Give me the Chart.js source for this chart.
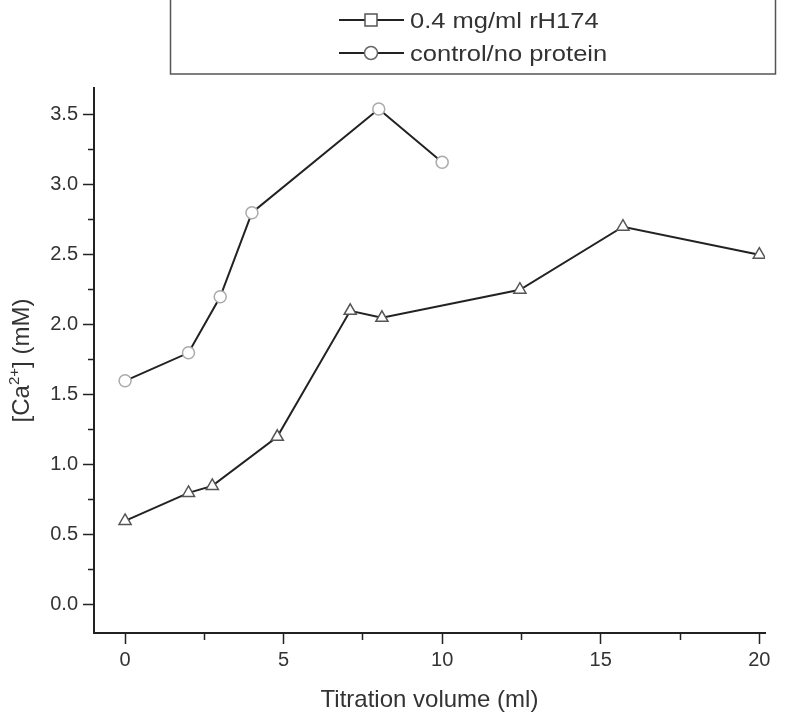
<!DOCTYPE html>
<html>
<head>
<meta charset="utf-8">
<script src="https://cdn.jsdelivr.net/npm/chart.js@4"></script>
<style>
  html, body { margin:0; padding:0; background:#fff; }
</style>
</head>
<body>
<canvas id="ch-calcium" width="800" height="720"></canvas>
<script>
// ====================== DATA ======================
const proteinX = [0, 2, 2.75, 4.8, 7.1, 8.1, 12.45, 15.7, 20];
const proteinY = [0.6, 0.8, 0.85, 1.2, 2.1, 2.05, 2.25, 2.7, 2.5];
const controlX = [0, 2, 3, 4, 8, 10];
const controlY = [1.6, 1.8, 2.2, 2.8, 3.54, 3.16];
const seriesNames = ['0.4 mg/ml rH174', 'control/no protein'];
const xTicks = [0, 2.5, 5, 7.5, 10, 12.5, 15, 17.5, 20];
const yTicks = [0, 0.25, 0.5, 0.75, 1, 1.25, 1.5, 1.75, 2, 2.25, 2.5, 2.75, 3, 3.25, 3.5];
const xTitle = 'Titration volume (ml)';

const INK = '#222';
const TXT = '#333';
const FONT = "'Liberation Sans', Arial, sans-serif";

const toPts = (xs, ys) => xs.map((x, i) => ({ x, y: ys[i] }));
const isMajorX = v => Math.abs(v % 5) < 1e-6;
const isMajorY = v => Math.abs(v * 2 - Math.round(v * 2)) < 1e-6;

// legend box + axis titles drawn straight on the canvas
const decorations = {
  id: 'decorations',
  afterDraw(chart) {
    const c = chart.ctx, area = chart.chartArea;
    c.save();
    // legend frame
    c.strokeStyle = '#555'; c.lineWidth = 1.5;
    c.strokeRect(170.5, -2, 605, 76);
    const rows = [{ y: 20, style: 'rect', color: '#555' }, { y: 53, style: 'circle', color: '#666' }];
    rows.forEach((r, i) => {
      c.strokeStyle = INK; c.lineWidth = 2;
      c.beginPath(); c.moveTo(339, r.y); c.lineTo(404, r.y); c.stroke();
      c.fillStyle = '#fff'; c.strokeStyle = r.color; c.lineWidth = 1.5;
      c.beginPath();
      if (r.style === 'rect') c.rect(365, r.y - 6, 12, 12);
      else c.arc(371, r.y, 6.5, 0, Math.PI * 2);
      c.fill(); c.stroke();
      c.save();
      c.translate(410, r.y + 8);
      c.scale(1.16, 1);
      c.fillStyle = TXT; c.font = '22px ' + FONT; c.textBaseline = 'alphabetic'; c.textAlign = 'left';
      c.fillText(seriesNames[i], 0, 0);
      c.restore();
    });

    // x title
    c.fillStyle = TXT; c.font = '24px ' + FONT; c.textAlign = 'center'; c.textBaseline = 'alphabetic';
    c.fillText(xTitle, (area.left + area.right) / 2, 707);

    // y title with superscript: [Ca2+] (mM)
    const parts = [['[Ca', 24, 0], ['2+', 15, -10], ['] (mM)', 24, 0]];
    let total = 0;
    parts.forEach(p => { c.font = p[1] + 'px ' + FONT; total += c.measureText(p[0]).width; });
    c.translate(29, (area.top + area.bottom) / 2);
    c.rotate(-Math.PI / 2);
    c.textAlign = 'left';
    let px = -total / 2;
    parts.forEach(p => {
      c.font = p[1] + 'px ' + FONT;
      c.fillText(p[0], px, p[2]);
      px += c.measureText(p[0]).width;
    });
    c.restore();
  }
};

new Chart(document.getElementById('ch-calcium'), {
  type: 'line',
  data: {
    datasets: [
      { label: seriesNames[0], data: toPts(proteinX, proteinY), borderColor: INK, borderWidth: 2,
        pointStyle: 'triangle', pointRadius: 7, pointBorderColor: '#555', pointBackgroundColor: '#fff', pointBorderWidth: 1.5 },
      { label: seriesNames[1], data: toPts(controlX, controlY), borderColor: INK, borderWidth: 2,
        pointStyle: 'circle', pointRadius: 6, pointBorderColor: '#aaa', pointBackgroundColor: '#fff', pointBorderWidth: 1.5 }
    ]
  },
  options: {
    responsive: false, animation: false,
    layout: { padding: { top: 88, right: 35, left: 0, bottom: 0 } },
    plugins: { legend: { display: false }, tooltip: { enabled: false } },
    elements: { line: { tension: 0 } },
    scales: {
      x: {
        type: 'linear', min: -0.98, max: 20.18,
        afterBuildTicks: s => { s.ticks = xTicks.map(v => ({ value: v })); },
        afterFit: s => { s.height = 87; },
        border: { color: INK, width: 2 },
        grid: { drawOnChartArea: false, drawTicks: true, tickLength: 11, color: INK, tickWidth: 1.5,
          tickBorderDash: ctx => (ctx.tick && !isMajorX(ctx.tick.value) ? [6, 60] : []) },
        ticks: { color: TXT, font: { family: FONT, size: 20 }, padding: 4, maxRotation: 0,
          callback: v => (isMajorX(v) ? String(v) : '') }
      },
      y: {
        min: -0.2, max: 3.69,
        afterBuildTicks: s => { s.ticks = yTicks.map(v => ({ value: v })); },
        afterFit: s => { s.width = 94; },
        border: { color: INK, width: 2 },
        grid: { drawOnChartArea: false, drawTicks: true, tickLength: 11, color: INK, tickWidth: 1.5,
          tickBorderDash: ctx => (ctx.tick && !isMajorY(ctx.tick.value) ? [0, 5, 6, 60] : []) },
        ticks: { color: TXT, font: { family: FONT, size: 20 }, padding: 5,
          callback: v => (isMajorY(v) ? v.toFixed(1) : '') }
      }
    }
  },
  plugins: [decorations]
});
</script>
</body>
</html>
